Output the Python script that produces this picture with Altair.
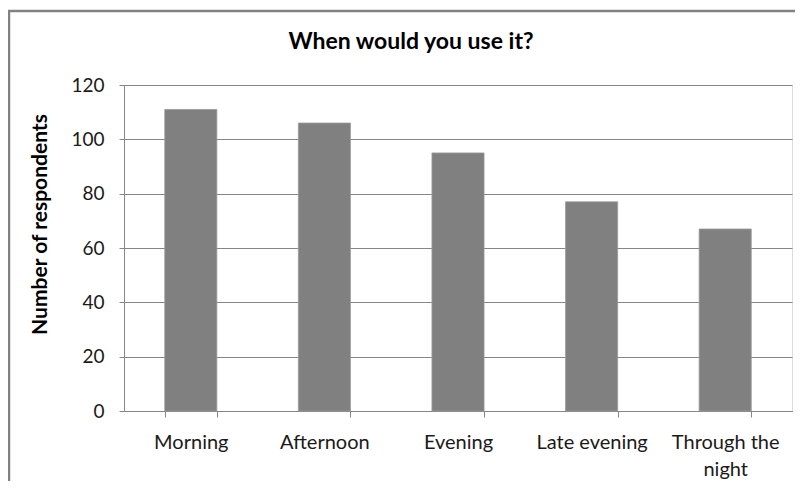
import altair as alt
import pandas as pd

categories = ["Morning", "Afternoon", "Evening", "Late evening", "Through the night"]
respondents = [111, 106, 95, 77, 67]
y_ticks = [0, 20, 40, 60, 80, 100, 120]

df = pd.DataFrame({"when": categories, "n": respondents})

FONT = "Lato"
GRAY = "#868686"
TEXT = "#1a1a1a"

bars = alt.Chart(df).mark_bar(color="#808080", stroke="#9a9a9a", strokeWidth=0.8).encode(
    x=alt.X(
        "when:N",
        sort=categories,
        scale=alt.Scale(paddingInner=0.61, paddingOuter=0.305),
        axis=alt.Axis(
            title=None,
            labelAngle=0,
            labelFont=FONT,
            labelFontSize=20,
            labelColor=TEXT,
            labelPadding=15,
            labelBaseline="top",
            labelLineHeight=27,
            labelExpr="datum.label == 'Through the night' ? ['Through the', 'night'] : datum.label",
            tickBand="extent",
            tickSize=6,
            tickColor=GRAY,
            domainColor=GRAY,
            grid=False,
        ),
    ),
    y=alt.Y(
        "n:Q",
        scale=alt.Scale(domain=[0, 120], nice=False),
        axis=alt.Axis(
            title="Number of respondents",
            titleFont=FONT,
            titleFontSize=21,
            titleFontWeight="bold",
            titleColor="#000000",
            titleAngle=-90,
            titleX=-84,
            titleY=139,
            titleAlign="center",
            titleBaseline="middle",
            values=y_ticks,
            labelFont=FONT,
            labelFontSize=19,
            labelColor=TEXT,
            labelPadding=15,
            tickSize=5,
            tickColor=GRAY,
            domainColor=GRAY,
            gridColor=GRAY,
            gridWidth=1,
        ),
    ),
)

frame = alt.Chart(alt.Data(values=[{}])).mark_rect(
    fill=None, stroke="#828282", strokeWidth=2.5
).encode(
    x=alt.value(-115),
    x2=alt.value(720),
    y=alt.value(-74),
    y2=alt.value(420),
)

chart = alt.layer(frame, bars).properties(
    width=668,
    height=326,
    padding={"left": 116, "top": 77, "right": 3, "bottom": 70},
    autosize=alt.AutoSizeParams(type="none"),
    title=alt.TitleParams(
        "When would you use it?",
        font=FONT,
        fontSize=23,
        fontWeight="bold",
        color="#000000",
        anchor="middle",
        frame="group",
        dx=-47,
        offset=-44,
    ),
).configure_view(stroke=None).configure(background="white")

chart.save("out.html", embed_options={"renderer": "svg", "actions": False})
